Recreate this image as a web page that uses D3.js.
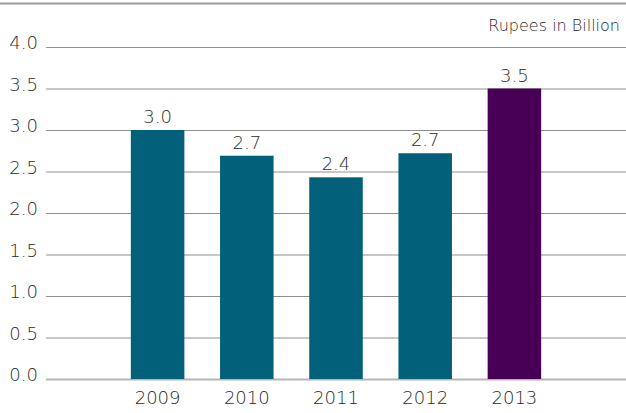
<!DOCTYPE html>
<html><head><meta charset="utf-8">
<script src="https://cdn.jsdelivr.net/npm/d3@7"></script>
<style>body{margin:0;background:#fff}svg{display:block}text{font-family:"DejaVu Sans",sans-serif;font-weight:200;fill:#2a2a2a}</style>
</head><body><svg id="c" width="626" height="413"></svg>
<script>
const years = ["2009","2010","2011","2012","2013"];
const values = [3.0, 2.69, 2.43, 2.72, 3.5];
const labels = ["3.0","2.7","2.4","2.7","3.5"];
const yTicks = [0,0.5,1,1.5,2,2.5,3,3.5,4];
const unit = "Rupees in Billion";
const colors = ["#02607a","#02607a","#02607a","#02607a","#470055"];
const FONT = '"DejaVu Sans", sans-serif';

const svg = d3.select("#c");
const y = d3.scaleLinear().domain([0,4]).range([379,47]);
const x = d3.scaleBand().domain(years).range([113,559]).paddingInner(0.4).paddingOuter(0.2);

svg.append("line").attr("x1",0).attr("x2",626).attr("y1",3.5).attr("y2",3.5).attr("stroke","#9a9a9a").attr("stroke-width",2);

const ga = svg.append("g").attr("transform","translate(46,0)")
  .call(d3.axisRight(y).tickValues(yTicks).tickSize(580).tickFormat(""));
ga.select(".domain").remove();
ga.selectAll(".tick line").attr("stroke",d=>d===0?"#b5b5b5":"#8f8f8f").attr("stroke-width",d=>d===0?2:1);

const gl = svg.append("g").attr("transform","translate(38,0)")
  .call(d3.axisLeft(y).tickValues(yTicks).tickSize(0).tickPadding(0).tickFormat(d3.format(".1f")));
gl.select(".domain").remove();
gl.selectAll("text").attr("font-size",18).style("font-family",FONT).style("font-weight",200).attr("fill","#2a2a2a").attr("dy","0.1em");

svg.selectAll("rect.bar").data(years).enter().append("rect")
  .attr("x",d=>x(d)).attr("width",x.bandwidth())
  .attr("y",(d,i)=>y(values[i])).attr("height",(d,i)=>y(0)-y(values[i]))
  .attr("fill",(d,i)=>colors[i]);

svg.selectAll("text.val").data(years).enter().append("text")
  .attr("x",d=>x(d)+x.bandwidth()/2).attr("y",(d,i)=>y(values[i])-7)
  .attr("text-anchor","middle").attr("font-size",18).text((d,i)=>labels[i]);

const gx = svg.append("g").attr("transform","translate(0,382)")
  .call(d3.axisBottom(x).tickSize(0).tickPadding(6));
gx.select(".domain").remove();
gx.selectAll("text").attr("font-size",18).style("font-family",FONT).style("font-weight",200).attr("fill","#2a2a2a").attr("dy","0.9em");

svg.append("text").attr("x",620).attr("y",31).attr("text-anchor","end").attr("font-size",16).text(unit);
</script></body></html>
